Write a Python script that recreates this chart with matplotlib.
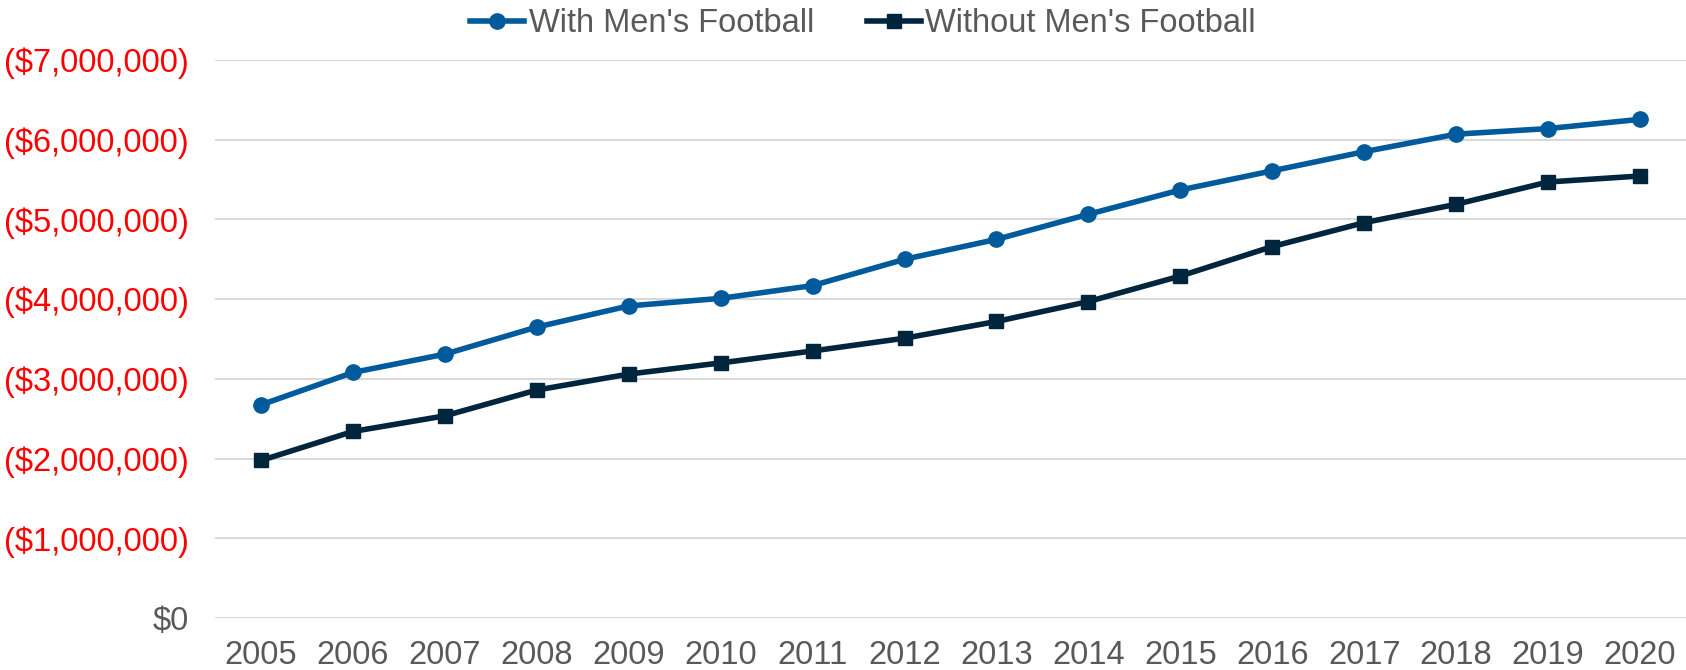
import matplotlib
matplotlib.use("Agg")
import matplotlib.pyplot as plt
from matplotlib.ticker import FuncFormatter, MultipleLocator

# data (dollars)
years = [2005, 2006, 2007, 2008, 2009, 2010, 2011, 2012,
         2013, 2014, 2015, 2016, 2017, 2018, 2019, 2020]
with_football = [2674000, 3080000, 3310000, 3650000, 3915000, 4010000, 4170000, 4500000,
                 4750000, 5065000, 5370000, 5610000, 5850000, 6070000, 6140000, 6256000]
without_football = [1976000, 2340000, 2536000, 2860000, 3060000, 3200000, 3350000, 3510000,
                    3720000, 3970000, 4290000, 4660000, 4960000, 5190000, 5470000, 5545000]

blue = "#005A9C"
navy = "#00253D"
grey = "#595959"

plt.rcParams['font.family'] = ['Liberation Sans', 'DejaVu Sans']

fig = plt.figure(figsize=(16.86, 6.70), dpi=100)
ax = fig.add_axes([0.1275, 0.0776, 0.8725, 0.8328])

x = list(range(len(years)))
ax.plot(x, with_football, color=blue, lw=4, marker='o', ms=11,
        label="With Men's Football", zorder=3)
ax.plot(x, without_football, color=navy, lw=4, marker='s', ms=9.5,
        label="Without Men's Football", zorder=3)

ax.set_xlim(-0.5, len(years) - 0.5)
ax.set_ylim(0, 7000000)
ax.yaxis.set_major_locator(MultipleLocator(1000000))

def money(v, pos):
    if v == 0:
        return "$0"
    return "(${:,.0f})".format(v)

ax.yaxis.set_major_formatter(FuncFormatter(money))
ax.set_xticks(x)
ax.set_xticklabels([str(y) for y in years])

ax.tick_params(axis='both', length=0, labelsize=23.5)
ax.tick_params(axis='y', pad=19)
ax.tick_params(axis='x', pad=16, colors=grey)
for lab in ax.get_yticklabels():
    lab.set_color(grey if lab.get_text() == "$0" else "#FF0000")

ax.grid(axis='y', color="#D9D9D9", lw=1.5, zorder=0)
ax.set_axisbelow(True)
for s in ax.spines.values():
    s.set_visible(False)

leg = fig.legend(loc='center', bbox_to_anchor=(0.512, 0.965), ncol=2, frameon=False,
                 fontsize=23.5, handlelength=1.65, handletextpad=0.15, columnspacing=1.6)
for t in leg.get_texts():
    t.set_color(grey)

fig.savefig("out.png", dpi=100)
